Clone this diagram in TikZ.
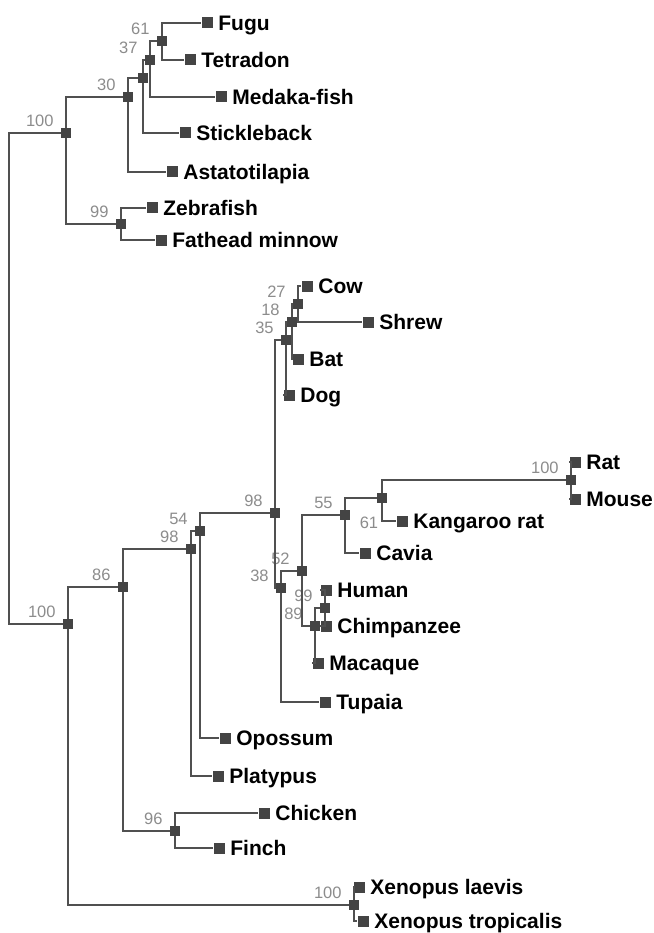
\documentclass[tikz,border=0pt]{standalone}
\usepackage{fontspec}
\setmainfont{Liberation Sans}
\usetikzlibrary{positioning}
\definecolor{branch}{HTML}{505050}
\definecolor{marker}{HTML}{444444}
\definecolor{support}{HTML}{8C8C8C}

\begin{document}
\begin{tikzpicture}[
  x=1pt, y=-1pt,
  edge/.style={draw=branch, line width=1.8pt},
  taxon/.style={font=\fontsize{21}{25}\selectfont\bfseries, text height=15pt, text depth=0pt, inner sep=0pt, xshift=5.5pt},
  boot/.style={font=\fontsize{16.5}{20}\selectfont, text=support, text height=12pt, text depth=0pt, inner sep=0pt, xshift=-7pt, yshift=1pt},
  leaf/.style={fill=marker, minimum size=11pt, inner sep=0pt, label={[taxon]right:#1}},
  split/.style={fill=marker, minimum size=10pt, inner sep=0pt, label={[boot]above left:#1}},
  split/.default={}
]
\useasboundingbox (0,0) rectangle (653,933);

\node[leaf=Fugu] (fugu) at (207,23) {};
\node[leaf=Tetradon] (tetradon) at (190,60) {};
\node[leaf=Medaka-fish] (medaka) at (221,97) {};
\node[leaf=Stickleback] (stickle) at (185,133) {};
\node[leaf=Astatotilapia] (astato) at (172,172) {};
\node[leaf=Zebrafish] (zebra) at (152,208) {};
\node[leaf=Fathead minnow] (fathead) at (161,240) {};
\node[leaf=Cow] (cow) at (307,286) {};
\node[leaf=Shrew] (shrew) at (368,322) {};
\node[leaf=Bat] (bat) at (298,359) {};
\node[leaf=Dog] (dog) at (289,395) {};
\node[leaf=Rat] (rat) at (575,462) {};
\node[leaf=Mouse] (mouse) at (575,499) {};
\node[leaf=Kangaroo rat] (kangaroo) at (402,521) {};
\node[leaf=Cavia] (cavia) at (365,553) {};
\node[leaf=Human] (human) at (326,590) {};
\node[leaf=Chimpanzee] (chimp) at (326,626) {};
\node[leaf=Macaque] (macaque) at (318,663) {};
\node[leaf=Tupaia] (tupaia) at (325,702) {};
\node[leaf=Opossum] (opossum) at (225,738) {};
\node[leaf=Platypus] (platypus) at (218,776) {};
\node[leaf=Chicken] (chicken) at (264,813) {};
\node[leaf=Finch] (finch) at (219,848) {};
\node[leaf=Xenopus laevis] (xlaevis) at (359,887) {};
\node[leaf=Xenopus tropicalis] (xtrop) at (363,921) {};

\node[split=61] (n61a) at (162,41) {};
\node[split=37] (n37) at (150,60) {};
\node[split] (nstk) at (143,78) {};
\node[split=30] (n30) at (128,97) {};
\node[split=99] (n99a) at (121,224) {};
\node[split=100] (n100a) at (66,133) {};
\node[split=27] (n27) at (298,304) {};
\node[split=18] (n18) at (292,322) {};
\node[split=35] (n35) at (286,340) {};
\node[split=98] (n98a) at (275,513) {};
\node[split=100] (n100r) at (571,480) {};
\node[split, label={[boot, xshift=8.5pt, yshift=-14pt]below left:61}] (n61b) at (382,498) {};
\node[split=55] (n55) at (345,515) {};
\node[split=99] (n99h) at (325,608) {};
\node[split=89] (n89) at (315,626) {};
\node[split=52] (n52) at (302,571) {};
\node[split=38] (n38) at (281,588) {};
\node[split=54] (n54) at (200,531) {};
\node[split=98] (n98b) at (191,549) {};
\node[split=96] (n96) at (175,831) {};
\node[split=86] (n86) at (123,587) {};
\node[split=100] (n100x) at (354,905) {};
\node[split=100] (n100b) at (68,624) {};
\coordinate (root) at (9,380);

\draw[edge] (root) |- (n100a);
\draw[edge] (root) |- (n100b);
\draw[edge] (n100a) |- (n30);
\draw[edge] (n100a) |- (n99a);
\draw[edge] (n30) |- (nstk);
\draw[edge] (n30) |- (astato);
\draw[edge] (nstk) |- (n37);
\draw[edge] (nstk) |- (stickle);
\draw[edge] (n37) |- (n61a);
\draw[edge] (n37) |- (medaka);
\draw[edge] (n61a) |- (fugu);
\draw[edge] (n61a) |- (tetradon);
\draw[edge] (n99a) |- (zebra);
\draw[edge] (n99a) |- (fathead);
\draw[edge] (n100b) |- (n86);
\draw[edge] (n100b) |- (n100x);
\draw[edge] (n100x) |- (xlaevis);
\draw[edge] (n100x) |- (xtrop);
\draw[edge] (n86) |- (n98b);
\draw[edge] (n86) |- (n96);
\draw[edge] (n96) |- (chicken);
\draw[edge] (n96) |- (finch);
\draw[edge] (n98b) |- (n54);
\draw[edge] (n98b) |- (platypus);
\draw[edge] (n54) |- (n98a);
\draw[edge] (n54) |- (opossum);
\draw[edge] (n98a) |- (n35);
\draw[edge] (n98a) |- (n38);
\draw[edge] (n35) |- (n18);
\draw[edge] (n35) |- (dog);
\draw[edge] (n18) |- (n27);
\draw[edge] (n18) |- (bat);
\draw[edge] (n27) |- (cow);
\draw[edge] (n27) |- (shrew);
\draw[edge] (n38) |- (n52);
\draw[edge] (n38) |- (tupaia);
\draw[edge] (n52) |- (n55);
\draw[edge] (n52) |- (n89);
\draw[edge] (n55) |- (n61b);
\draw[edge] (n55) |- (cavia);
\draw[edge] (n61b) |- (n100r);
\draw[edge] (n61b) |- (kangaroo);
\draw[edge] (n100r) |- (rat);
\draw[edge] (n100r) |- (mouse);
\draw[edge] (n89) |- (n99h);
\draw[edge] (n89) |- (macaque);
\draw[edge] (n99h) |- (human);
\draw[edge] (n99h) |- (chimp);

\end{tikzpicture}
\end{document}
